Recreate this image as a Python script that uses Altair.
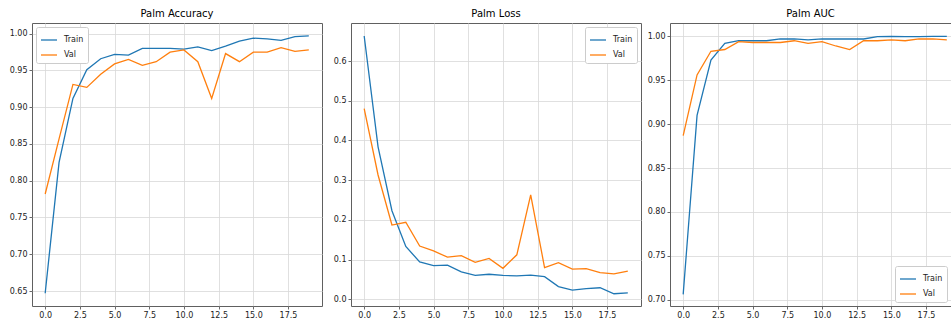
import altair as alt
import pandas as pd

epochs = list(range(20))

acc_train = [0.647, 0.825, 0.912, 0.951, 0.966, 0.972, 0.971, 0.980, 0.980, 0.980,
             0.979, 0.982, 0.977, 0.983, 0.990, 0.994, 0.993, 0.991, 0.996, 0.997]
acc_val = [0.782, 0.857, 0.931, 0.927, 0.945, 0.959, 0.965, 0.957, 0.962, 0.975,
           0.978, 0.962, 0.912, 0.973, 0.962, 0.975, 0.975, 0.981, 0.976, 0.978]

loss_train = [0.663, 0.384, 0.223, 0.133, 0.094, 0.085, 0.086, 0.069, 0.060, 0.063,
              0.060, 0.059, 0.061, 0.057, 0.032, 0.023, 0.027, 0.029, 0.014, 0.016]
loss_val = [0.480, 0.313, 0.187, 0.194, 0.134, 0.122, 0.106, 0.110, 0.093, 0.103,
            0.078, 0.112, 0.263, 0.080, 0.092, 0.076, 0.077, 0.067, 0.064, 0.071]

auc_train = [0.706, 0.910, 0.973, 0.992, 0.995, 0.995, 0.995, 0.997, 0.997, 0.996,
             0.997, 0.997, 0.997, 0.997, 0.9996, 1.000, 0.9996, 0.9996, 1.000, 1.000]
auc_val = [0.887, 0.956, 0.983, 0.985, 0.994, 0.993, 0.993, 0.993, 0.995, 0.992,
           0.994, 0.989, 0.985, 0.995, 0.995, 0.996, 0.995, 0.997, 0.997, 0.996]

x_ticks = [0, 2.5, 5, 7.5, 10, 12.5, 15, 17.5]
acc_ticks = [0.65, 0.70, 0.75, 0.80, 0.85, 0.90, 0.95, 1.00]
loss_ticks = [0.0, 0.1, 0.2, 0.3, 0.4, 0.5, 0.6]
auc_ticks = [0.70, 0.75, 0.80, 0.85, 0.90, 0.95, 1.00]

series_names = ["Train", "Val"]
series_colors = ["#1f77b4", "#ff7f0e"]

FONT = "DejaVu Sans"
SPINE = "#606060"
PANEL_W = 290
PX_PER_EPOCH = PANEL_W / 20.9


def make_df(train, val):
    return pd.DataFrame({
        "epoch": epochs + epochs,
        "value": train + val,
        "series": ["Train"] * len(train) + ["Val"] * len(val),
    })


def panel(title, train, val, ydomain, yticks, yfmt, legend_orient):
    df = make_df(train, val)
    return alt.Chart(df, title=alt.Title(title)).mark_line(strokeWidth=1.3, clip=True).encode(
        x=alt.X("epoch:Q",
                scale=alt.Scale(domain=[-0.95, 19.95], nice=False, zero=False),
                axis=alt.Axis(values=x_ticks, format=".1f", title=None)),
        y=alt.Y("value:Q",
                scale=alt.Scale(domain=ydomain, nice=False, zero=False),
                axis=alt.Axis(values=yticks, format=yfmt, title=None)),
        color=alt.Color("series:N",
                        scale=alt.Scale(domain=series_names, range=series_colors),
                        legend=alt.Legend(orient=legend_orient, title=None)),
        order=alt.Order("epoch:Q"),
    ).properties(width=PANEL_W, height=283)


p1 = panel("Palm Accuracy", acc_train, acc_val, [0.6296, 1.0146], acc_ticks, ".2f", "top-left")
p2 = panel("Palm Loss", loss_train, loss_val, [-0.0169, 0.6957], loss_ticks, ".1f", "top-right")

# third panel is cut off at the right edge of the figure
w3 = 951 - 670
x3_max = -0.95 + w3 / PX_PER_EPOCH
df3 = make_df(auc_train, auc_val)
x3_scale = alt.Scale(domain=[-0.95, x3_max], nice=False, zero=False)
lines3 = alt.Chart(df3).mark_line(strokeWidth=1.3, clip=True).encode(
    x=alt.X("epoch:Q", scale=x3_scale,
            axis=alt.Axis(values=x_ticks, format=".1f", title=None,
                          domain=True, domainColor=SPINE, domainWidth=1)),
    y=alt.Y("value:Q",
            scale=alt.Scale(domain=[0.6928, 1.0152], nice=False, zero=False),
            axis=alt.Axis(values=auc_ticks, format=".2f", title=None,
                          domain=True, domainColor=SPINE, domainWidth=1)),
    color=alt.Color("series:N",
                    scale=alt.Scale(domain=series_names, range=series_colors),
                    legend=alt.Legend(orient="bottom-right", title=None)),
    order=alt.Order("epoch:Q"),
)
top3 = alt.Chart(df3).mark_point(opacity=0).encode(
    x=alt.X("epoch:Q", scale=x3_scale,
            axis=alt.Axis(orient="top", labels=False, ticks=False, grid=False, title=None,
                          domain=True, domainColor=SPINE, domainWidth=1)),
)
p3 = alt.layer(lines3, top3, title=alt.Title("Palm AUC"),
               view=alt.ViewBackground(stroke=None)).resolve_axis(
    x="independent"
).properties(width=w3, height=283)

chart = alt.hconcat(p1, p2, p3, spacing=29, bounds="flush").resolve_scale(
    color="independent"
).resolve_legend(color="independent").properties(
    padding={"left": 8, "top": 8, "right": 0, "bottom": 0},
    background="white",
).configure_view(
    stroke=SPINE, strokeWidth=1
).configure_axis(
    grid=True, gridColor="#d8d8d8", gridWidth=0.8, domain=False,
    tickColor="#444444", tickSize=3, tickWidth=0.8,
    labelFont=FONT, labelFontSize=8, labelColor="#222222", labelPadding=2,
).configure_title(
    font=FONT, fontSize=10, fontWeight="normal", color="black", offset=4, anchor="middle",
).configure_legend(
    symbolType="stroke", symbolStrokeWidth=1.3, symbolSize=256,
    labelFont=FONT, labelFontSize=8, labelColor="#222222", labelOffset=6,
    fillColor="white", strokeColor="#cccccc", cornerRadius=2,
    padding=4, offset=4, rowPadding=2,
)

chart.save("out.html", embed_options={"renderer": "svg", "actions": False})
